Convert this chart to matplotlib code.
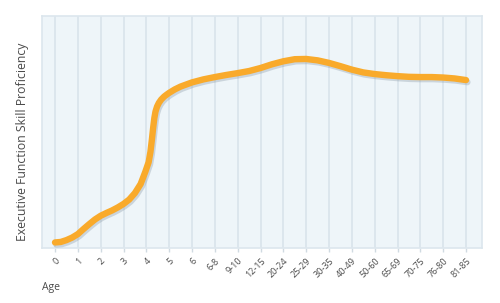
import numpy as np
import matplotlib
matplotlib.use("Agg")
from matplotlib import pyplot as plt
import matplotlib.patheffects as pe

# age groups on the x axis
ages = ["0", "1", "2", "3", "4", "5", "6", "6-8", "9-10", "12-15", "20-24",
        "25-29", "30-35", "40-49", "50-60", "65-69", "70-75", "76-80", "81-85"]

# curve: position along the age axis, proficiency (0-100)
curve_x = [0, 0.25, 0.5, 0.75, 1, 1.25, 1.5, 1.75, 2, 2.25, 2.5, 2.75, 3,
           3.25, 3.5, 3.75, 3.96, 4.10, 4.18, 4.24, 4.30, 4.35, 4.40, 4.47,
           4.55, 4.65, 4.78, 4.9, 5, 5.25, 5.5, 6, 6.5, 7, 7.5, 8, 8.5, 9,
           9.5, 10, 10.5, 11, 11.5, 12, 12.5, 13, 13.5, 14, 14.5, 15, 15.5,
           16, 16.5, 17, 17.5, 18]
curve_y = [2.4, 2.6, 3.4, 4.5, 6.0, 8.2, 10.3, 12.3, 13.9, 15.1, 16.2, 17.5,
           19.0, 20.9, 23.7, 27.6, 33.0, 37.0, 41.5, 46.5, 52.0, 56.0, 58.8,
           61.0, 62.6, 64.0, 65.3, 66.2, 66.9, 68.4, 69.6, 71.4, 72.7, 73.7,
           74.6, 75.4, 76.3, 77.6, 79.2, 80.5, 81.4, 81.5, 80.9, 79.8, 78.4,
           76.9, 75.7, 75.0, 74.5, 74.1, 73.8, 73.7, 73.7, 73.5, 73.1, 72.4]

plt.rcParams['font.family'] = ['Open Sans', 'DejaVu Sans']

fig = plt.figure(figsize=(5, 3.03), dpi=100)
ax = fig.add_axes([0.084, 0.1815, 0.88, 0.7655])
ax.set_facecolor('#EEF5F9')

x = np.arange(len(ages))
for xi in x:
    ax.axvline(xi, color='#D9E4EB', lw=1.2, zorder=1)

ax.plot(curve_x, curve_y, color='#F9AA2B', lw=4.6, solid_capstyle='round',
        solid_joinstyle='round', zorder=3,
        path_effects=[pe.SimpleLineShadow(offset=(1, -1.5), shadow_color='#8899A6', alpha=0.35),
                      pe.Normal()])

ax.set_xlim(-0.57, 18.7)
ax.set_ylim(0, 100)
ax.set_yticks([])
ax.set_xticks(x)
ax.set_xticklabels(ages, rotation=45, ha='right', va='top', rotation_mode='anchor',
                   fontsize=6.5, color='#4A4A4A')
ax.tick_params(axis='x', length=3, width=1, color='#D0DAE1', pad=3)

for s in ax.spines.values():
    s.set_color('#DCE6ED')
    s.set_linewidth(1.2)

ax.set_ylabel('Executive Function Skill Proficiency', fontsize=8.8, color='#4A4A4A')
ax.yaxis.set_label_coords(-0.03, 0.457)
fig.text(0.084, 0.05, 'Age', fontsize=7.5, color='#4A4A4A', ha='left', va='center')

fig.savefig('out.png', dpi=100)
